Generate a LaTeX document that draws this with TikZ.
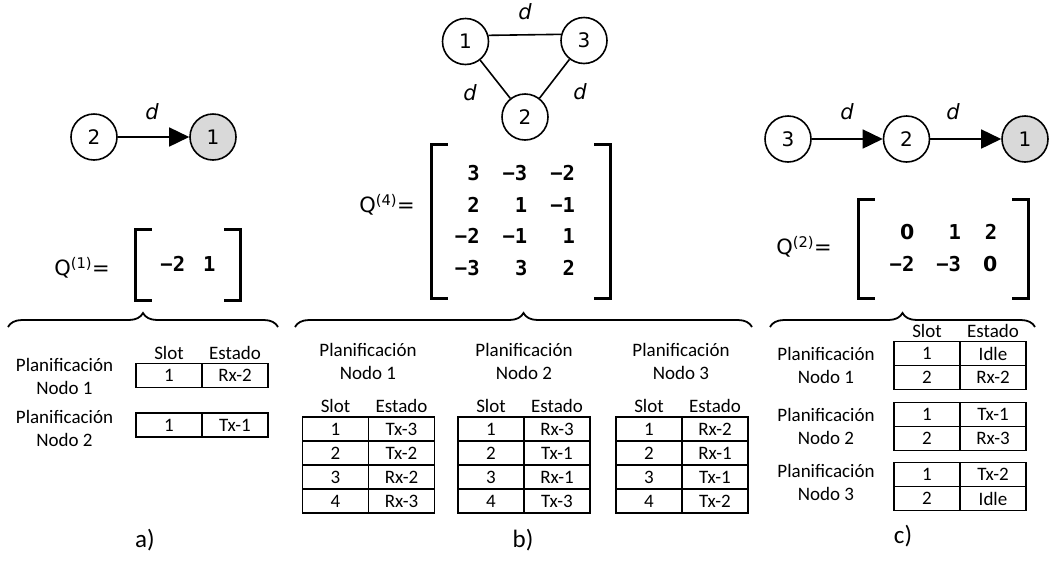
\documentclass[tikz,border=0pt]{standalone}
\usepackage{fontspec}
\setmainfont{Carlito}
\newfontfamily\vfont{DejaVu Sans}
\newfontfamily\mfont{DejaVu Sans Mono}
\usetikzlibrary{arrows.meta,positioning,decorations.pathreplacing}

\newcommand{\tabtext}{\fontsize{19}{23}\selectfont}
% plain zero, the mono one is dotted
\newcommand{\nought}{{\vfont\bfseries 0}}

\begin{document}
\begin{tikzpicture}[x=1pt, y=-1pt,
  vert/.style={circle, draw, line width=1.6pt, minimum size=46pt, inner sep=0pt,
    font=\vfont\fontsize{20}{24}\selectfont},
  sink/.style={vert, fill=black!15},
  dlbl/.style={inner sep=0pt, font=\vfont\itshape\fontsize{21}{24}\selectfont},
  link/.style={line width=1.6pt},
  arr/.style={link, -{Triangle[length=20pt,width=19pt]}},
  qlbl/.style={anchor=east, inner sep=0pt, font=\vfont\fontsize{21}{24}\selectfont},
  mtx/.style={inner sep=0pt, font=\mfont\bfseries\fontsize{20.5}{31.5}\selectfont},
  brk/.style={line width=3.2pt},
  brc/.style={line width=1.8pt, decorate, decoration={brace, amplitude=14pt}},
  cell/.style={draw, line width=1.3pt, minimum width=66pt, minimum height=24pt,
    inner sep=0pt, outer sep=0pt, font=\tabtext},
  head/.style={inner sep=0pt, font=\tabtext},
  plan/.style={align=center, inner sep=0pt, font=\tabtext},
  caption/.style={inner sep=0pt, font=\fontsize{25}{28}\selectfont}
]
\useasboundingbox (0,0) rectangle (1049,563);

% ---- a) two nodes
\node[vert] (va2) at (94,137) {2};
\node[sink] (va1) at (213,137) {1};
\draw[arr] (va2) -- (va1);
\node[dlbl] (da) at (152,112) {d};

\node[mtx, minimum width=104pt, minimum height=70pt] (qa) at (188,265)
  {\setlength\tabcolsep{9pt}\begin{tabular}{@{}rr@{}}−2 & 1\end{tabular}};
\draw[brk] ([xshift=16pt]qa.north west) -- (qa.north west) -- (qa.south west) -- ([xshift=16pt]qa.south west);
\draw[brk] ([xshift=-16pt]qa.north east) -- (qa.north east) -- (qa.south east) -- ([xshift=-16pt]qa.south east);
\node[qlbl] (qla) at (110,268) {Q\textsuperscript{(1)}=};

\coordinate (bal) at (8,327);
\coordinate (bar) at (278,327);
\draw[brc] (bal) -- (bar);

\node[cell] (a1s) at (169,375.5) {1};
\node[cell, right=0pt of a1s] (a1e) {Rx-2};
\node[cell] (a2s) at (169,425) {1};
\node[cell, right=0pt of a2s] (a2e) {Tx-1};
\node[head, above=4pt of a1s] (ahs) {Slot};
\node[head, above=4pt of a1e] (ahe) {Estado};
\node[plan] (pa1) at (64.5,376) {Planificación\\Nodo 1};
\node[plan] (pa2) at (64.5,428) {Planificación\\Nodo 2};
\node[caption] (capa) at (145,540) {a)};

% ---- b) triangle
\node[vert] (vb1) at (465.5,41.5) {1};
\node[vert] (vb3) at (584,40.5) {3};
\node[vert] (vb2) at (525,117) {2};
\draw[link] (vb1.15) -- (vb3.165);
\draw[link] (vb1) -- (vb2);
\draw[link] (vb3) -- (vb2);
\node[dlbl] (db13) at (525,12) {d};
\node[dlbl] (db12) at (470,93) {d};
\node[dlbl] (db32) at (580,92) {d};

\node[mtx, minimum width=178pt, minimum height=153pt] (qb) at (521,221.5)
  {\setlength\tabcolsep{11.5pt}\begin{tabular}{@{}rrr@{\hspace{12pt}}}
     3 & −3 & −2\\ 2 & 1 & −1\\ −2 & −1 & 1\\ −3 & 3 & 2\end{tabular}};
\draw[brk] ([xshift=16pt]qb.north west) -- (qb.north west) -- (qb.south west) -- ([xshift=16pt]qb.south west);
\draw[brk] ([xshift=-16pt]qb.north east) -- (qb.north east) -- (qb.south east) -- ([xshift=-16pt]qb.south east);
\node[qlbl] (qlb) at (415,205) {Q\textsuperscript{(4)}=};

\coordinate (bbl) at (295,327);
\coordinate (bbr) at (752,327);
\draw[brc] (bbl) -- (bbr);

\foreach \st [count=\i] in {Tx-3,Tx-2,Rx-2,Rx-3} {
  \node[cell] (b1s\i) at (335.5,405+24*\i) {\i};
  \node[cell, right=0pt of b1s\i] (b1e\i) {\st};
}
\foreach \st [count=\i] in {Rx-3,Tx-1,Rx-1,Tx-3} {
  \node[cell] (b2s\i) at (491,405+24*\i) {\i};
  \node[cell, right=0pt of b2s\i] (b2e\i) {\st};
}
\foreach \st [count=\i] in {Rx-2,Rx-1,Tx-1,Tx-2} {
  \node[cell] (b3s\i) at (649,405+24*\i) {\i};
  \node[cell, right=0pt of b3s\i] (b3e\i) {\st};
}
\foreach \t in {1,2,3} {
  \node[head, above=4pt of b\t s1] (bhs\t) {Slot};
  \node[head, above=4pt of b\t e1] (bhe\t) {Estado};
}
\node[plan] (pb1) at (368,361) {Planificación\\Nodo 1};
\node[plan] (pb2) at (524,361) {Planificación\\Nodo 2};
\node[plan] (pb3) at (681,361) {Planificación\\Nodo 3};
\node[caption] (capb) at (523,540) {b)};

% ---- c) chain of three
\node[vert] (vc3) at (788,139) {3};
\node[vert] (vc2) at (906.5,139) {2};
\node[sink] (vc1) at (1025,139) {1};
\draw[arr] (vc3) -- (vc2);
\draw[arr] (vc2) -- (vc1);
\node[dlbl] (dc32) at (847,112) {d};
\node[dlbl] (dc21) at (953,112) {d};

\node[mtx, minimum width=169pt, minimum height=98pt] (qc) at (943.5,249)
  {\setlength\tabcolsep{11pt}\begin{tabular}{@{}rrr@{}}
     \nought & 1 & 2\\ −2 & −3 & \nought\end{tabular}};
\draw[brk] ([xshift=16pt]qc.north west) -- (qc.north west) -- (qc.south west) -- ([xshift=16pt]qc.south west);
\draw[brk] ([xshift=-16pt]qc.north east) -- (qc.north east) -- (qc.south east) -- ([xshift=-16pt]qc.south east);
\node[qlbl] (qlc) at (832,247) {Q\textsuperscript{(2)}=};

\coordinate (bcl) at (770,327);
\coordinate (bcr) at (1035,327);
\draw[brc] (bcl) -- (bcr);

\node[cell] (c1s1) at (927,353.5) {1};
\node[cell, right=0pt of c1s1] (c1e1) {Idle};
\node[cell, below=0pt of c1s1] (c1s2) {2};
\node[cell, right=0pt of c1s2] (c1e2) {Rx-2};
\node[cell] (c2s1) at (927,414.5) {1};
\node[cell, right=0pt of c2s1] (c2e1) {Tx-1};
\node[cell, below=0pt of c2s1] (c2s2) {2};
\node[cell, right=0pt of c2s2] (c2e2) {Rx-3};
\node[cell] (c3s1) at (927,474.5) {1};
\node[cell, right=0pt of c3s1] (c3e1) {Tx-2};
\node[cell, below=0pt of c3s1] (c3s2) {2};
\node[cell, right=0pt of c3s2] (c3e2) {Idle};
\node[head, above=4pt of c1s1] (chs) {Slot};
\node[head, above=4pt of c1e1] (che) {Estado};
\node[plan] (pc1) at (826,365) {Planificación\\Nodo 1};
\node[plan] (pc2) at (826,426.5) {Planificación\\Nodo 2};
\node[plan] (pc3) at (826,482.5) {Planificación\\Nodo 3};
\node[caption] (capc) at (903,536) {c)};
\end{tikzpicture}
\end{document}
